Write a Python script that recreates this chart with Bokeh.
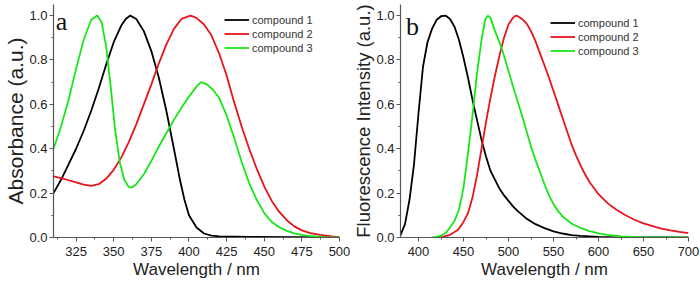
from bokeh.plotting import figure
from bokeh.models import Range1d, SingleIntervalTicker, Legend, LegendItem, Label, PrintfTickFormatter, Title
from bokeh.layouts import row
from bokeh.embed import file_html
from bokeh.resources import INLINE

# ---------------- Panel a: absorbance ----------------
abs_wl_1 = [310, 315, 320, 325, 330, 335, 340, 345, 350, 355, 358, 361, 365, 370, 375, 380, 385, 390, 394, 397, 400, 405, 410, 415, 420, 440, 470, 500]
abs_val_1 = [0.20, 0.26, 0.33, 0.40, 0.48, 0.57, 0.67, 0.78, 0.88, 0.955, 0.985, 1.0, 0.985, 0.93, 0.84, 0.72, 0.57, 0.40, 0.26, 0.17, 0.10, 0.045, 0.018, 0.008, 0.005, 0.003, 0.002, 0.001]

abs_wl_2 = [310, 315, 320, 325, 330, 335, 340, 345, 350, 355, 360, 365, 370, 375, 380, 385, 390, 395, 401, 405, 410, 415, 420, 425, 430, 435, 440, 445, 450, 455, 460, 465, 470, 475, 480, 487, 495, 500]
abs_val_2 = [0.275, 0.268, 0.258, 0.248, 0.238, 0.233, 0.24, 0.265, 0.305, 0.36, 0.43, 0.51, 0.60, 0.69, 0.785, 0.87, 0.94, 0.985, 1.0, 0.99, 0.96, 0.91, 0.83, 0.73, 0.61, 0.50, 0.40, 0.31, 0.23, 0.165, 0.115, 0.078, 0.05, 0.032, 0.021, 0.012, 0.005, 0.002]

abs_wl_3 = [310, 315, 320, 325, 330, 335, 339, 342, 345, 348, 351, 354, 357, 360, 362, 365, 370, 375, 380, 385, 390, 395, 400, 405, 408, 412, 416, 420, 425, 430, 435, 440, 445, 450, 455, 460, 465, 470, 475, 480, 490, 500]
abs_val_3 = [0.40, 0.50, 0.62, 0.76, 0.89, 0.98, 1.0, 0.97, 0.86, 0.68, 0.48, 0.34, 0.26, 0.228, 0.225, 0.24, 0.285, 0.345, 0.41, 0.47, 0.53, 0.585, 0.635, 0.68, 0.70, 0.69, 0.665, 0.63, 0.55, 0.45, 0.34, 0.245, 0.17, 0.11, 0.07, 0.046, 0.03, 0.019, 0.012, 0.007, 0.002, 0.0]

# ---------------- Panel b: fluorescence ----------------
fl_wl_1 = [380, 385, 390, 395, 400, 405, 410, 415, 420, 425, 430, 435, 440, 445, 450, 455, 460, 465, 470, 475, 480, 485, 490, 495, 500, 505, 510, 520, 530, 540, 550, 560, 570, 580, 600, 620, 700]
fl_val_1 = [0.01, 0.06, 0.17, 0.33, 0.56, 0.77, 0.88, 0.94, 0.98, 0.997, 1.0, 0.985, 0.95, 0.89, 0.81, 0.72, 0.62, 0.53, 0.44, 0.365, 0.30, 0.26, 0.22, 0.19, 0.165, 0.14, 0.12, 0.085, 0.06, 0.042, 0.028, 0.018, 0.011, 0.007, 0.003, 0.001, 0.0]

fl_wl_2 = [420, 427, 435, 444, 450, 455, 460, 465, 470, 475, 480, 485, 490, 495, 500, 505, 508, 510, 515, 520, 525, 530, 535, 540, 545, 550, 555, 560, 565, 570, 575, 580, 585, 590, 600, 610, 620, 630, 640, 650, 660, 670, 680, 690, 700]
fl_val_2 = [0.0, 0.003, 0.012, 0.035, 0.07, 0.11, 0.18, 0.28, 0.40, 0.52, 0.63, 0.73, 0.82, 0.90, 0.96, 0.99, 1.0, 0.998, 0.985, 0.965, 0.93, 0.885, 0.83, 0.775, 0.72, 0.66, 0.60, 0.54, 0.48, 0.42, 0.37, 0.325, 0.285, 0.25, 0.195, 0.155, 0.125, 0.10, 0.08, 0.064, 0.051, 0.04, 0.032, 0.025, 0.02]

fl_wl_3 = [415, 420, 425, 430, 435, 440, 445, 450, 455, 460, 465, 470, 474, 477, 480, 485, 490, 495, 500, 505, 510, 515, 520, 525, 530, 535, 540, 545, 550, 555, 560, 570, 580, 590, 600, 610, 625, 650, 700]
fl_val_3 = [0.0, 0.003, 0.008, 0.02, 0.045, 0.075, 0.125, 0.225, 0.38, 0.55, 0.74, 0.89, 0.98, 1.0, 0.99, 0.93, 0.88, 0.82, 0.75, 0.68, 0.615, 0.55, 0.48, 0.41, 0.35, 0.295, 0.24, 0.19, 0.15, 0.12, 0.095, 0.063, 0.043, 0.029, 0.019, 0.012, 0.005, 0.001, 0.0]

series_names = ["compound 1", "compound 2", "compound 3"]
series_colors = ["#000000", "#e8141c", "#19e619"]

x_label = "Wavelength / nm"
y_label_a = "Absorbance (a.u.)"
y_label_b = "Fluorescence Intensity (a.u.)"

FONT = "Liberation Sans"
AXIS_COLOR = "#555555"
TEXT_COLOR = "#222222"


def make_fig(xr, xint, border_left, border_right):
    p = figure(width=350, height=281, output_backend="svg", toolbar_location=None,
               x_range=Range1d(*xr), y_range=Range1d(0, 1.05),
               min_border_left=border_left, min_border_right=border_right,
               min_border_top=4, min_border_bottom=44)
    p.outline_line_color = None
    p.xgrid.visible = False
    p.ygrid.visible = False
    p.background_fill_color = "white"
    p.border_fill_color = "white"
    p.xaxis.ticker = SingleIntervalTicker(interval=xint, num_minor_ticks=2)
    p.yaxis.ticker = SingleIntervalTicker(interval=0.2, num_minor_ticks=2)
    p.yaxis.formatter = PrintfTickFormatter(format="%.1f")
    for ax in (p.xaxis[0], p.yaxis[0]):
        ax.axis_line_color = AXIS_COLOR
        ax.axis_line_width = 1.2
        ax.major_tick_line_color = AXIS_COLOR
        ax.minor_tick_line_color = AXIS_COLOR
        ax.major_tick_in = 0
        ax.major_tick_out = 4
        ax.minor_tick_in = 0
        ax.minor_tick_out = 2
        ax.major_label_text_font = FONT
        ax.major_label_text_font_size = "13px"
        ax.major_label_text_color = TEXT_COLOR
    p.xaxis.major_label_standoff = 5
    p.xaxis.axis_label = x_label
    p.xaxis.axis_label_text_font = FONT
    p.xaxis.axis_label_text_font_style = "normal"
    p.xaxis.axis_label_text_color = TEXT_COLOR
    p.xaxis.axis_label_text_font_size = "17px"
    p.xaxis.axis_label_standoff = 1
    p.yaxis.major_label_standoff = 2
    return p


pa = make_fig((310, 500), 25, 53, 11)
pb = make_fig((380, 700), 50, 49, 12)


def add_series(p, xs_list, ys_list, legend_xy):
    items = []
    for xs, ys, name, col in zip(xs_list, ys_list, series_names, series_colors):
        r = p.line(xs, ys, line_color=col, line_width=1.8)
        items.append(LegendItem(label=name, renderers=[r]))
    leg = Legend(items=items, location=legend_xy, orientation="vertical",
                 border_line_color=None, background_fill_alpha=0,
                 padding=0, margin=0, spacing=1,
                 glyph_width=25, glyph_height=13, label_height=13,
                 label_standoff=3,
                 label_text_font=FONT, label_text_font_size="11px",
                 label_text_color="#333333")
    p.add_layout(leg, "center")


add_series(pa, [abs_wl_1, abs_wl_2, abs_wl_3], [abs_val_1, abs_val_2, abs_val_3], (171, 183))
add_series(pb, [fl_wl_1, fl_wl_2, fl_wl_3], [fl_val_1, fl_val_2, fl_val_3], (150, 180))

# vertical axis titles as left-side titles
pa.add_layout(Title(text=y_label_a, align="center", standoff=0, offset=-9,
                    text_font=FONT, text_font_size="21px", text_font_style="normal",
                    text_color=TEXT_COLOR), "left")
pb.add_layout(Title(text=y_label_b, align="center", standoff=0,
                    text_font=FONT, text_font_size="18.5px", text_font_style="normal",
                    text_color=TEXT_COLOR), "left")

# panel letters
pa.add_layout(Label(x=311.5, y=0.975, text="a", text_font="Liberation Serif",
                    text_font_size="26px", text_color="#111111",
                    text_baseline="alphabetic"))
pb.add_layout(Label(x=386, y=0.95, text="b", text_font="Liberation Serif",
                    text_font_size="26px", text_color="#111111",
                    text_baseline="alphabetic"))

layout = row(pa, pb)
open("out.html", "w").write(file_html(layout, INLINE))
